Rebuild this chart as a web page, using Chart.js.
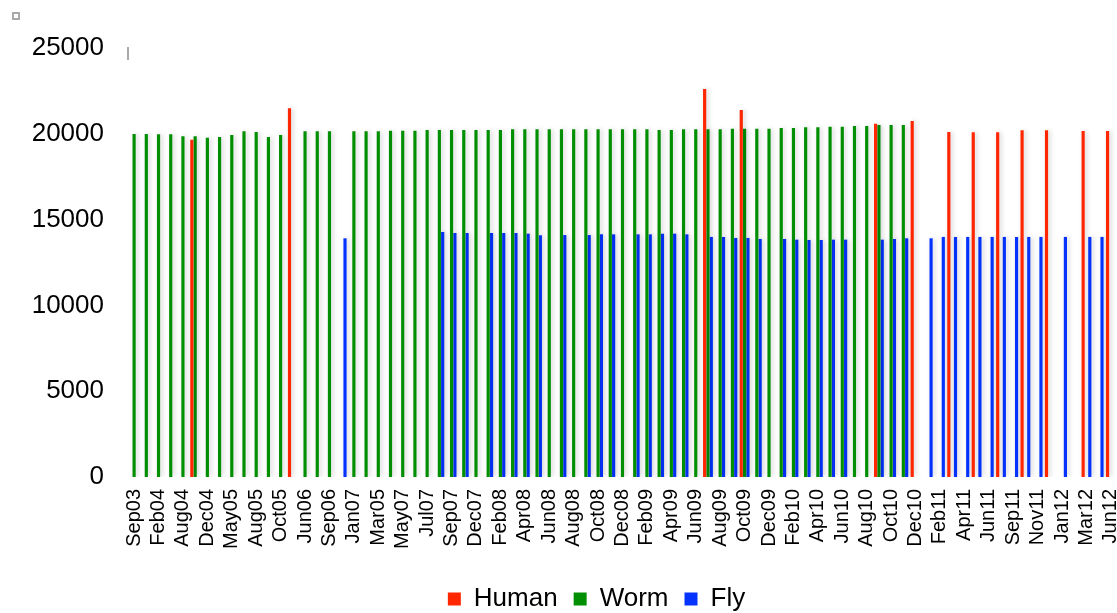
<!DOCTYPE html>
<html>
<head>
<meta charset="utf-8">
<script src="https://cdn.jsdelivr.net/npm/chart.js@4.4.0/dist/chart.umd.min.js"></script>
<style>
    html, body { margin: 0; padding: 0; background: #fff; overflow: hidden; }
    #frame { position: relative; width: 1117px; height: 613px; overflow: hidden; }
    #chart-box { position: absolute; left: 0; top: 0; width: 1117px; height: 622px; }
    #corner { position: absolute; left: 12px; top: 12px; width: 8px; height: 8px; border: 2px solid #aaa; box-sizing: border-box; }
    #axis-mark { position: absolute; left: 127px; top: 47px; width: 2px; height: 13px; background: #aaa; }
</style>
</head>
<body>
<div id="frame">
    <div id="chart-box"><canvas id="releaseChart"></canvas></div>
    <div id="corner"></div>
    <div id="axis-mark"></div>
</div>
<script>
// Release months (only every other one is printed on the axis)
const releases = ["Sep03","Dec03","Feb04","May04","Aug04","Oct04","Dec04","Feb05","May05","Jul05",
    "Aug05","Sep05","Oct05","Feb06","Jun06","Jul06","Sep06","Nov06","Jan07","Feb07",
    "Mar05","Apr07","May07","Jun07","Jul07","Aug07","Sep07","Oct07","Dec07","Jan08",
    "Feb08","Mar08","Apr08","May08","Jun08","Jul08","Aug08","Sep08","Oct08","Nov08",
    "Dec08","Jan09","Feb09","Mar09","Apr09","May09","Jun09","Jul09","Aug09","Sep09",
    "Oct09","Nov09","Dec09","Jan10","Feb10","Mar10","Apr10","May10","Jun10","Jul10",
    "Aug10","Sep10","Oct10","Nov10","Dec10","Jan11","Feb11","Mar11","Apr11","May11",
    "Jun11","Aug11","Sep11","Oct11","Nov11","Dec11","Jan12","Feb12","Mar12","Apr12",
    "Jun12"];

// Gene counts per release
const human = [null,null,null,null,null,19660,null,null,null,null,
    null,null,null,21490,null,null,null,null,null,null,
    null,null,null,null,null,null,null,null,null,null,
    null,null,null,null,null,null,null,null,null,null,
    null,null,null,null,null,null,null,22610,null,null,
    21390,null,null,null,null,null,null,null,null,null,
    null,20590,null,null,20750,null,null,20100,null,20090,
    null,20090,null,20200,null,20200,null,null,20160,null,
    20160];

const worm = [19990,19990,19970,19970,19855,19855,19775,19815,19930,20145,
    20105,19815,19930,null,20145,20145,20145,null,20145,20145,
    20145,20180,20180,20180,20220,20220,20220,20220,20220,20220,
    20220,20260,20260,20260,20260,20260,20260,20260,20260,20260,
    20260,20260,20260,20220,20220,20260,20260,20260,20260,20300,
    20300,20300,20300,20340,20340,20380,20380,20415,20415,20455,
    20455,20510,20510,20510,null,null,null,null,null,null,
    null,null,null,null,null,null,null,null,null,null,
    null];

const fly = [null,null,null,null,null,null,null,null,null,null,
    null,null,null,null,null,null,null,13910,null,null,
    null,null,null,null,null,14280,14220,14220,null,14220,
    14220,14220,14180,14085,null,14100,null,14100,14140,14140,
    null,14140,14140,14180,14180,14140,null,13990,13990,13930,
    13930,13870,null,13870,13830,13810,13810,13830,13830,null,
    null,13830,13870,13910,null,13910,13990,13990,13990,13990,
    13990,13990,13990,13990,13990,null,13990,null,13990,13990,
    null];

const yTicks = [0, 5000, 10000, 15000, 20000, 25000];

const fontFamily = "'Liberation Sans', Arial, sans-serif";

// Soft grey shadow behind the bars
const barShadow = {
    id: "barShadow",
    beforeDatasetsDraw(chart) {
        const c = chart.ctx;
        c.save();
        c.shadowColor = "rgba(0, 0, 0, 0.18)";
        c.shadowBlur = 5;
        c.shadowOffsetX = 2;
        c.shadowOffsetY = 0;
    },
    afterDatasetsDraw(chart) {
        chart.ctx.restore();
    }
};

// Legend sits centred under the plot area rather than the whole canvas
const legendShift = {
    id: "legendShift",
    afterLayout(chart) {
        const shift = (chart.chartArea.left) / 2 - 26;
        chart.legend.left += shift;
        chart.legend.right += shift;
    }
};

const ctx = document.getElementById("releaseChart").getContext("2d");

new Chart(ctx, {
    type: "bar",
    data: {
        labels: releases,
        datasets: [
            { label: "Human", data: human, backgroundColor: "#ff2600" },
            { label: "Worm", data: worm, backgroundColor: "#008f00" },
            { label: "Fly", data: fly, backgroundColor: "#0433ff" }
        ]
    },
    options: {
        responsive: true,
        maintainAspectRatio: false,
        animation: false,
        devicePixelRatio: 1,
        datasets: {
            bar: { categoryPercentage: 0.82, barPercentage: 0.95, borderWidth: 0 }
        },
        layout: { padding: { left: 0, right: 0, top: 48, bottom: 0 } },
        plugins: {
            legend: {
                position: "bottom",
                labels: {
                    color: "#000",
                    font: { family: fontFamily, size: 26 },
                    boxWidth: 13,
                    boxHeight: 13,
                    padding: 16
                }
            },
            tooltip: { enabled: false }
        },
        scales: {
            x: {
                grid: { display: false, drawTicks: false },
                border: { display: false },
                ticks: {
                    autoSkip: false,
                    minRotation: 90,
                    maxRotation: 90,
                    padding: 12,
                    color: "#000",
                    font: { family: fontFamily, size: 20 },
                    callback: function(value, index) {
                        return index % 2 === 0 ? this.getLabelForValue(value) : "";
                    }
                },
                afterFit: function(scale) {
                    scale.paddingLeft = 0;
                    scale.paddingRight = 0;
                    scale.height = 93;
                }
            },
            y: {
                min: 0,
                max: yTicks[yTicks.length - 1],
                grid: { display: false, drawTicks: false },
                border: { display: false },
                afterBuildTicks: function(scale) {
                    scale.ticks = yTicks.map(v => ({ value: v }));
                },
                ticks: {
                    padding: 24,
                    color: "#000",
                    font: { family: fontFamily, size: 26 },
                    callback: function(value) {
                        return String(value);
                    }
                },
                afterFit: function(scale) {
                    scale.width = 128;
                }
            }
        }
    },
    plugins: [barShadow, legendShift]
});
</script>
</body>
</html>
